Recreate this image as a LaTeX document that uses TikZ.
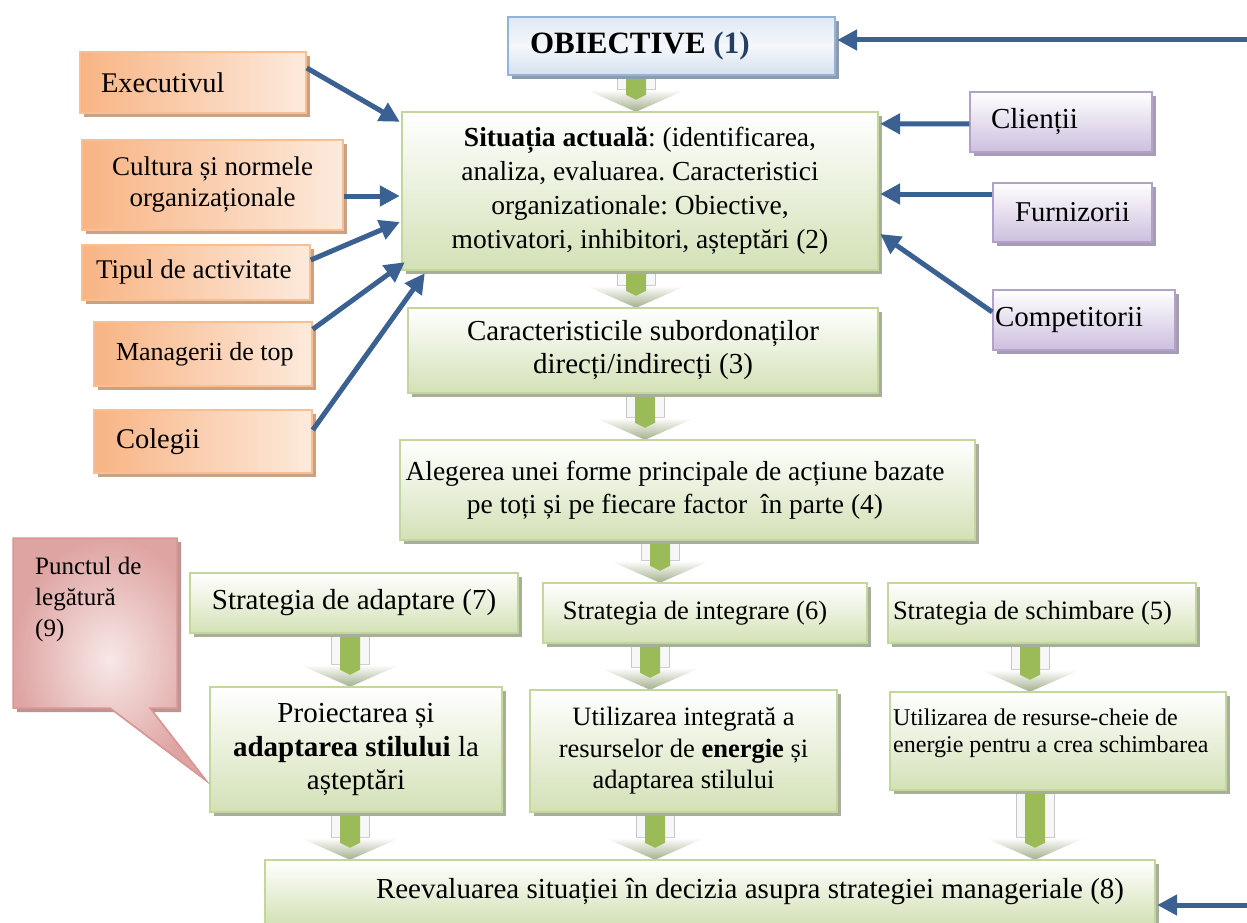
\documentclass[tikz,border=0pt]{standalone}
\usepackage{fontspec}
\setmainfont{Liberation Serif}
\usetikzlibrary{shadows,calc,arrows.meta}
\newcommand\fz[2]{\fontsize{#1}{#2}\selectfont\frenchspacing}
\definecolor{gborder}{HTML}{C3D69B}
\definecolor{gfill}{HTML}{D3E1B6}
\definecolor{gshadow}{HTML}{A7AE9C}
\definecolor{oborder}{HTML}{F9BF90}
\definecolor{ofill}{HTML}{F8B484}
\definecolor{olight}{HTML}{FDEADC}
\definecolor{oshadow}{HTML}{C9A283}
\definecolor{pborder}{HTML}{B3A2C8}
\definecolor{pfill}{HTML}{CDBFDE}
\definecolor{pshadow}{HTML}{A79CB5}
\definecolor{bborder}{HTML}{95B3D7}
\definecolor{bshadow}{HTML}{8D9BAE}
\definecolor{numblue}{HTML}{243F60}
\definecolor{arrowblue}{HTML}{3A6192}
\definecolor{greenc}{HTML}{9BBB59}
\definecolor{headc}{HTML}{A3AF8C}
\definecolor{pinkb}{HTML}{D99694}
\definecolor{pinkin}{HTML}{F7E8E7}
\definecolor{pinkout}{HTML}{DEA4A2}
\tikzset{
  gbox/.style={draw=gborder, line width=1.5pt, top color=white, bottom color=gfill,
    drop shadow={shadow xshift=4pt, shadow yshift=-4pt, fill=gshadow, opacity=1},
    inner sep=0pt, align=center, text=black},
  obox/.style={draw=oborder, line width=1.5pt, left color=ofill, right color=olight,
    drop shadow={shadow xshift=4pt, shadow yshift=-4pt, fill=oshadow, opacity=1},
    inner sep=0pt, align=center, text=black},
  pbox/.style={draw=pborder, line width=1.5pt, top color=white, bottom color=pfill,
    drop shadow={shadow xshift=4pt, shadow yshift=-4pt, fill=pshadow, opacity=1},
    inner sep=0pt, align=center, text=black},
  bbox/.style={draw=bborder, line width=1.5pt, top color=white!70!bborder, bottom color=white!60!bborder, middle color=white!90!bborder,
    drop shadow={shadow xshift=4pt, shadow yshift=-4pt, fill=bshadow, opacity=1},
    inner sep=0pt, text=black},
  callshape/.style={draw=pinkb, line width=1.5pt, inner color=pinkin, outer color=pinkout,
    drop shadow={shadow xshift=4pt, shadow yshift=-4pt, fill=pinkb!80!black, opacity=0.8}},
  conn/.style={draw=arrowblue, line width=5pt, -{Triangle[length=20pt,width=20pt]}},
  shaftc/.style={draw=black!22, fill=black!3, line width=1pt},
}
\newcommand\barrow[3]{%
  \path let \p1=(#2.south), \p2=(#3.north), \p3=(#1,0) in
    coordinate (bt) at (\x3,\y1) coordinate (bb) at (\x3,\y2);
  \draw[shaftc] ($(bt)+(-19,0)$) rectangle ($(bb)+(19,-22)$);
  \shade[top color=white, bottom color=headc] ($(bb)+(-50,-22)$) -- ($(bb)+(50,-22)$) -- (bb) -- cycle;
  \fill[greenc] ($(bt)+(-10,0)$) -- ($(bt)+(10,0)$) -- ($(bb)+(10,-17)$) -- ($(bb)+(0,-12)$) -- ($(bb)+(-10,-17)$) -- cycle;
}
\begin{document}
\begin{tikzpicture}[x=1pt,y=-1pt]
\useasboundingbox (0,0) rectangle (1247,923);
\fill[white] (0,0) rectangle (1247,923);

% ---- positions (nodes defined first, invisible) ----
\path
  node[minimum width=327, minimum height=58] (obj) at (671.5,46) {}
  node[minimum width=476, minimum height=158] (sit) at (640,191) {}
  node[minimum width=470, minimum height=85] (car) at (643,350.5) {}
  node[minimum width=575, minimum height=100] (ale) at (687.5,490) {}
  node[minimum width=328, minimum height=60] (ada) at (354,603) {}
  node[minimum width=324, minimum height=60] (int) at (705,613) {}
  node[minimum width=308, minimum height=60] (sch) at (1042,613) {}
  node[minimum width=292, minimum height=125] (pro) at (356,749.5) {}
  node[minimum width=307, minimum height=122] (uin) at (683.5,751) {}
  node[minimum width=336, minimum height=98] (urc) at (1058,741) {}
  node[minimum width=890, minimum height=64] (ree) at (710,892) {};

% ---- block arrows ----
\barrow{636}{obj}{sit}
\barrow{636}{sit}{car}
\barrow{645}{car}{ale}
\barrow{660}{ale}{int}
\barrow{350}{ada}{pro}
\barrow{650}{int}{uin}
\barrow{1030}{sch}{urc}
\barrow{350}{pro}{ree}
\barrow{655}{uin}{ree}
\barrow{1035}{urc}{ree}

% ---- main boxes ----
\node[bbox, minimum width=327, minimum height=58, text width=283, inner xsep=22, align=flush left, font=\fz{31}{36}\bfseries] at (obj) {OBIECTIVE {\color{numblue}(1)}};
\node[gbox, minimum width=476, minimum height=158, font=\fz{27.5}{34}] at (sit) {\textbf{Situația actuală}: (identificarea,\\ analiza, evaluarea. Caracteristici\\ organizationale: Obiective,\\ motivatori, inhibitori, așteptări (2)};
\node[gbox, minimum width=470, minimum height=85, font=\fz{29}{33}] at (car) {Caracteristicile subordonaților\\ direcți/indirecți (3)};
\node[gbox, minimum width=575, minimum height=100, font=\fz{27.5}{33}] at (ale) {Alegerea unei forme principale de acțiune bazate\hspace*{25pt}\\ pe toți și pe fiecare factor \ în parte (4)\hspace*{25pt}};
\node[gbox, minimum width=328, minimum height=60, font=\fz{29}{33}] at (ada) {Strategia de adaptare (7)};
\node[gbox, minimum width=324, minimum height=60, font=\fz{26.5}{31}] at (int) {Strategia de integrare (6)\hspace*{20pt}};
\node[gbox, minimum width=308, minimum height=60, text width=298, inner xsep=5, align=flush left, font=\fz{26.5}{31}] at (sch) {Strategia de schimbare (5)};
\node[gbox, minimum width=292, minimum height=125, font=\fz{29}{33.5}] at (pro) {Proiectarea și\\ \textbf{adaptarea stilului} la\\ așteptări};
\node[gbox, minimum width=307, minimum height=122, font=\fz{26.5}{31.5}] at (uin) {Utilizarea integrată a\\ resurselor de \textbf{energie} și\\ adaptarea stilului};
\node[gbox, minimum width=336, minimum height=98] at (urc) {};
\node[anchor=north west, align=flush left, inner sep=0pt, font=\fz{24}{27}] (urct) at (893,709) {Utilizarea de resurse-cheie de\\ energie pentru a crea schimbarea};
\node[gbox, minimum width=890, minimum height=64, font=\fz{29}{33}] at (ree) {\hspace*{80pt}Reevaluarea situației în decizia asupra strategiei manageriale (8)};

% ---- left orange boxes ----
\node[obox, minimum width=226, minimum height=61, text width=206, inner xsep=10, align=flush left, font=\fz{28.5}{32}] (exe) at (193,82.5) {\hspace*{11pt}Executivul};
\node[obox, minimum width=261, minimum height=90, font=\fz{27}{31}] (cul) at (212.5,185) {Cultura și normele\\ organizaționale};
\node[obox, minimum width=228, minimum height=55, text width=218, inner xsep=5, align=flush left, font=\fz{27}{31}] (tip) at (196,272.5) {\hspace*{9pt}Tipul de activitate};
\node[obox, minimum width=218, minimum height=64, text width=208, inner xsep=5, align=flush left, font=\fz{26}{30}] (man) at (203,354) {\hspace*{17pt}Managerii de top};
\node[obox, minimum width=218, minimum height=63, text width=208, inner xsep=5, align=flush left, font=\fz{28.5}{32}] (col) at (203,441.5) {\hspace*{17pt}Colegii};

% ---- right purple boxes ----
\node[pbox, minimum width=182, minimum height=60, text width=172, inner xsep=5, align=flush left, font=\fz{29}{33}] (cli) at (1061,122) {\hspace*{16pt}Clienții};
\node[pbox, minimum width=159, minimum height=59, font=\fz{28.7}{33}] (fur) at (1072.5,212.5) {Furnizorii};
\node[pbox, minimum width=182, minimum height=60, text width=178, inner xsep=2, align=flush left, font=\fz{29}{33}] (com) at (1084,320) {Competitorii};

% ---- callout ----
\coordinate (cnw) at (13,538);
\coordinate (cse) at (177,708);
\coordinate (ctip) at ($(pro.south west)+(-4,-32)$);
\path[callshape] (cnw) -- (cnw -| cse) -- (cse) -- ($(cse)+(-27,0)$) -- (ctip) -- ($(cse)+(-67,0)$) -- (cnw |- cse) -- cycle;
\node[anchor=north west, align=flush left, inner sep=0pt, font=\fz{25}{31}] (call) at (35,557) {Punctul de\\ legătură\\ (9)};

% ---- blue connectors ----
\draw[conn] ($(exe.east)+(0,-14.5)$) -- ($(sit.north west)+(-2,10)$);
\draw[conn] ($(cul.east)+(0,11)$) -- ($(sit.west)+(-2,5)$);
\draw[conn] ($(tip.east)+(0,-12.5)$) -- ($(sit.west)+(-2,31)$);
\draw[conn] ($(man.north east)+(0,8)$) -- ($(sit.south west)+(3,-8)$);
\draw[conn] ($(col.east)+(0,-11.5)$) -- ($(sit.south west)+(23,3)$);
\draw[conn] ($(cli.west)+(0,2)$) -- ($(sit.north east)+(2,12)$);
\draw[conn] ($(fur.west)+(0,-18.5)$) -- ($(sit.east)+(2,3)$);
\draw[conn] ($(com.west)+(0,-8)$) -- ($(sit.east)+(2,43)$);
\coordinate (rtop) at (1247,40);
\draw[conn] (rtop) -- ($(obj.east)+(2,-6)$);
\coordinate (rbot) at (1247,905);
\draw[conn] (rbot) -- ($(ree.east)+(2,13)$);
\end{tikzpicture}
\end{document}
